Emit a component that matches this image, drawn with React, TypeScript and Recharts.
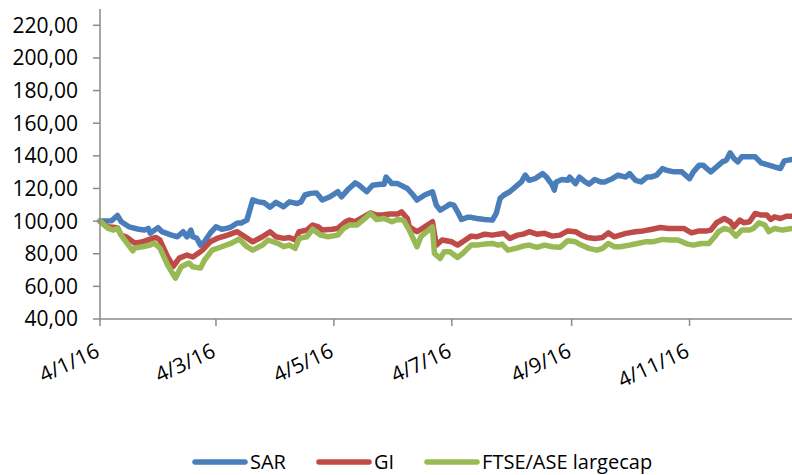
import React from 'react';
import { LineChart, Line, XAxis, YAxis, Legend } from 'recharts';

// Day offsets are days since 4 Jan 2016
const tickDays = [0, 60, 121, 182, 244, 305];
const tickLabels = ['4/1/16', '4/3/16', '4/5/16', '4/7/16', '4/9/16', '4/11/16'];
const yTicks = [40, 60, 80, 100, 120, 140, 160, 180, 200, 220];

const sarDays = [0, 6, 9, 11, 15, 20, 23, 25, 26, 30, 32, 37, 40, 43, 45, 47, 48, 50, 52, 54, 57, 60, 63, 66, 68, 71, 73, 76, 79, 82, 85, 88, 91, 95, 98, 102, 104, 106, 109, 112, 115, 119, 123, 125, 128, 132, 134, 138, 141, 145, 147, 148, 151, 154, 159, 162, 164, 168, 172, 174, 176, 179, 181, 183, 185, 187, 190, 192, 195, 199, 203, 205, 207, 209, 212, 216, 218, 220, 222, 225, 229, 231, 234, 235, 236, 239, 242, 243, 246, 248, 251, 253, 256, 259, 261, 265, 268, 272, 274, 277, 280, 283, 285, 288, 291, 293, 297, 301, 305, 307, 310, 312, 314, 316, 319, 322, 324, 326, 328, 330, 332, 336, 339, 342, 346, 349, 352, 354, 358];
const sarValues = [100, 100.2, 103.5, 99.6, 96.5, 95, 94.5, 95.5, 92.6, 96, 93.5, 91.4, 90.4, 93.5, 90.4, 94.5, 90.4, 89.6, 85.3, 87.3, 92.6, 96.5, 95, 95.7, 96.5, 98.8, 98.8, 100.6, 113, 111.8, 111.2, 108.5, 111.5, 108.8, 111.8, 110.8, 111.8, 116, 117, 117.3, 112.9, 114.9, 118, 114.9, 119, 123.4, 122, 118, 122, 122.6, 122.6, 127, 123, 123, 120, 116, 112.9, 116, 118, 109.8, 106.7, 108.8, 110.4, 109.8, 105.7, 101, 102.3, 102.3, 101.6, 101, 100.6, 104.7, 113.9, 116, 118, 122, 124, 128.2, 125, 126, 129.1, 127, 122, 119, 124, 125.5, 125, 127, 123, 127, 124, 122.6, 125.5, 124, 124, 126, 128.2, 127, 129.1, 125, 124, 127, 127, 128.2, 132.2, 131.2, 130.2, 130.2, 126, 130.2, 134.3, 134.3, 132.2, 130.2, 133.2, 136.3, 137.3, 141.8, 138.4, 136.3, 139.4, 139.4, 139.4, 135.7, 134.3, 133.2, 132.2, 136.9, 137.8];

const giDays = [0, 4, 9, 11, 14, 18, 22, 26, 29, 31, 35, 38, 41, 45, 48, 51, 53, 57, 61, 66, 71, 75, 79, 84, 88, 91, 95, 98, 101, 103, 107, 110, 113, 115, 120, 123, 127, 129, 132, 135, 140, 143, 146, 150, 154, 156, 159, 160, 164, 168, 172, 174, 177, 182, 185, 189, 192, 195, 199, 203, 206, 209, 212, 216, 219, 222, 226, 230, 234, 238, 242, 246, 249, 252, 256, 260, 263, 266, 272, 277, 281, 285, 290, 294, 297, 302, 306, 310, 314, 316, 319, 323, 326, 328, 331, 333, 336, 339, 342, 345, 347, 349, 352, 355, 358];
const giValues = [100, 96.5, 96, 91.4, 90, 86.5, 87.3, 89, 90, 88.4, 78, 72.4, 77.3, 79.2, 78, 80.4, 82.2, 87.3, 89.6, 91.4, 93.5, 90.4, 87.3, 90.4, 93.5, 90.4, 89.4, 90, 88.4, 93.5, 94.5, 97.6, 96.5, 94.5, 95, 95.5, 99.6, 100.6, 99.6, 101.6, 105, 103.7, 103.7, 104.3, 104.3, 105.7, 101.6, 96.5, 93.5, 96.5, 99.6, 85.3, 88.4, 87.3, 85.3, 88.4, 90.8, 90.4, 92, 91.4, 92, 92.5, 89.4, 91.4, 92, 93.5, 92, 92.5, 90.8, 91.4, 94, 93.5, 91.4, 90, 89.4, 90, 92.8, 90.4, 92.5, 93.5, 94, 94.9, 96.1, 95.5, 95.5, 95.5, 92.8, 94, 94, 94.5, 99, 101.6, 99.6, 96.5, 100.6, 99, 99.6, 104.7, 103.7, 103.7, 101, 102.6, 101.6, 103, 103];

const ftseDays = [0, 4, 7, 9, 12, 17, 18, 22, 26, 28, 31, 35, 39, 42, 46, 48, 52, 54, 58, 63, 68, 72, 76, 79, 84, 87, 92, 95, 98, 101, 103, 107, 110, 114, 118, 123, 126, 129, 133, 136, 140, 143, 147, 151, 154, 157, 160, 164, 166, 171, 172, 173, 176, 178, 181, 185, 188, 192, 195, 199, 203, 206, 208, 211, 215, 219, 222, 226, 230, 234, 238, 242, 246, 249, 253, 257, 260, 263, 266, 269, 274, 278, 282, 286, 291, 295, 299, 304, 307, 311, 315, 318, 320, 323, 326, 329, 332, 336, 338, 341, 344, 346, 349, 353, 358];
const ftseValues = [100, 95.7, 94.5, 95.7, 89.6, 81.8, 83.5, 84.3, 85.3, 86.5, 83.5, 73, 65, 72, 74.3, 72, 71.2, 76, 82.2, 84.3, 86.5, 89, 84.3, 82.2, 85.3, 88.4, 86.3, 84.3, 85.3, 83.3, 89.4, 90.4, 95, 91.4, 90.4, 91.4, 95.5, 97.6, 97.6, 100.6, 104.7, 101, 101.6, 99.6, 101, 100.6, 94.5, 84.3, 90.4, 95.5, 96.5, 80.2, 77.1, 81.2, 81.2, 77.7, 80.6, 85.3, 85.3, 85.9, 86.3, 85.3, 85.9, 82.2, 83.3, 84.7, 85.3, 83.9, 85.3, 84.3, 83.9, 88, 87.3, 85.3, 83.3, 82.2, 83.3, 86.3, 84.3, 84.3, 85.3, 86.3, 87.3, 87.3, 88.8, 88.4, 88.4, 85.9, 85.3, 86.3, 86.3, 90.4, 93.5, 95.5, 94.5, 90.8, 94.5, 94.5, 95.5, 99, 97.6, 93.5, 95.5, 94.5, 95.5];

const toRows = (days: number[], values: number[]) => days.map((d, i) => ({ day: d, v: values[i] }));
const sarData = toRows(sarDays, sarValues);
const giData = toRows(giDays, giValues);
const ftseData = toRows(ftseDays, ftseValues);

const FONT = "'Open Sans', 'Liberation Sans', sans-serif";
const AXIS = '#8a8a8a';

const series = [
  { name: 'SAR', color: '#4a7ebb', data: sarData },
  { name: 'GI', color: '#be4b48', data: giData },
  { name: 'FTSE/ASE largecap', color: '#98b954', data: ftseData },
];

const DateTick = (props: any) => {
  const { x, y, payload } = props;
  const idx = tickDays.indexOf(payload.value);
  const label = idx >= 0 ? tickLabels[idx] : '';
  return (
    <g transform={`translate(${x + 1},${y + 30})`}>
      <text textAnchor="end" transform="rotate(-25)" fontSize={21} fontFamily={FONT} fill="#000">
        {label}
      </text>
    </g>
  );
};

const LegendContent = () => (
  <div style={{ display: 'flex', alignItems: 'center', height: 30, paddingTop: 4, paddingLeft: 192, boxSizing: 'border-box', fontFamily: FONT, fontSize: 20, color: '#000' }}>
    {series.map((s) => (
      <div key={s.name} style={{ display: 'flex', alignItems: 'center', marginRight: 30 }}>
        <svg width={56} height={8} style={{ display: 'block' }}>
          <line x1={3} y1={4} x2={53} y2={4} stroke={s.color} strokeWidth={5.5} strokeLinecap="round" />
        </svg>
        <span style={{ marginLeft: 2, lineHeight: '24px' }}>{s.name}</span>
      </div>
    ))}
  </div>
);

export default function App() {
  return (
    <div style={{ position: 'absolute', left: 0, top: 0, width: 792, height: 475, background: '#fff' }}>
      <LineChart width={792} height={475} margin={{ top: 9, right: 0, bottom: 0, left: 0 }}>
        <XAxis
          type="number"
          dataKey="day"
          domain={[0, 358]}
          ticks={tickDays}
          interval={0}
          tick={<DateTick />}
          tickSize={7}
          tickMargin={0}
          height={126}
          allowDuplicatedCategory={false}
          axisLine={{ stroke: AXIS, strokeWidth: 1.5 }}
          tickLine={{ stroke: AXIS, strokeWidth: 1.5 }}
        />
        <YAxis
          type="number"
          domain={[40, 230]}
          ticks={yTicks}
          interval={0}
          width={100}
          tickSize={7}
          tickMargin={15}
          tickFormatter={(v: number) => v.toFixed(2).replace('.', ',')}
          tick={{ fill: '#000', fontSize: 21, fontFamily: FONT }}
          axisLine={{ stroke: AXIS, strokeWidth: 1.5 }}
          tickLine={{ stroke: AXIS, strokeWidth: 1.5 }}
        />
        <Legend verticalAlign="bottom" height={30} content={<LegendContent />} />
        {series.map((s) => (
          <Line
            key={s.name}
            data={s.data}
            dataKey="v"
            name={s.name}
            type="linear"
            stroke={s.color}
            strokeWidth={5.5}
            strokeLinejoin="round"
            strokeLinecap="round"
            dot={false}
            activeDot={false}
            isAnimationActive={false}
          />
        ))}
      </LineChart>
    </div>
  );
}
